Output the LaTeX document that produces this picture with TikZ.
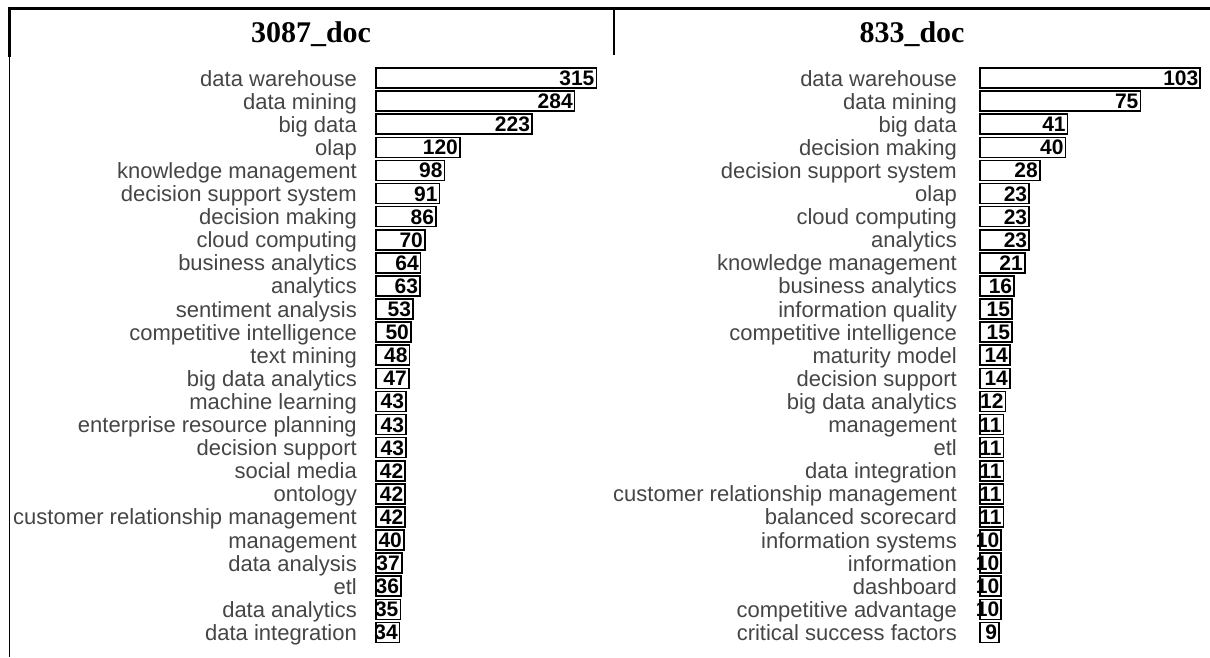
\documentclass[tikz,border=0pt]{standalone}
\usepackage{fontspec}
\setmainfont{Liberation Serif}
\newfontfamily\arialf{Liberation Sans}
\definecolor{labgray}{gray}{0.27}
\begin{document}
\begin{tikzpicture}[x=1pt,y=-1pt,
  lab/.style={anchor=base east,inner sep=0pt,text=labgray,font=\arialf\fontsize{22}{22}\selectfont},
  barbox/.style={draw=black,line width=1.6pt,fill=white,minimum height=20pt,inner sep=0pt,anchor=west},
  num/.style={anchor=base east,inner sep=0pt,text=black,font=\arialf\bfseries\fontsize{21}{21}\selectfont},
  ttl/.style={anchor=base,inner sep=0pt,font=\bfseries\fontsize{30}{30}\selectfont},
  rule/.style={line width=3pt,line cap=rect}]
\useasboundingbox (0,0) rectangle (1210,657);
% table borders
\draw[rule] (9.5,8.5) -- (1210,8.5);
\draw[rule] (9.5,8.5) -- (9.5,55);
\draw[line width=1.8pt] (9.5,55) -- (9.5,657);
\draw[line width=2.4pt] (614,8.5) -- (614,55);
% titles
\node[ttl] (tL) at (311,42) {3087\_doc};
\node[ttl] (tR) at (912,42) {833\_doc};
% left chart
\foreach \t/\v [count=\i from 0] in {data warehouse/315,data mining/284,big data/223,olap/120,knowledge management/98,decision support system/91,decision making/86,cloud computing/70,business analytics/64,analytics/63,sentiment analysis/53,competitive intelligence/50,text mining/48,big data analytics/47,machine learning/43,enterprise resource planning/43,decision support/43,social media/42,ontology/42,customer relationship management/42,management/40,data analysis/37,etl/36,data analytics/35,data integration/34}{
  \pgfmathsetmacro{\yy}{78+23.1*\i}
  \node[lab] (lL\i) at (357,\yy+8) {\t};
  \node[barbox,minimum width=0.70*\v pt] (bL\i) at (375,\yy) {};
  \node[num] (nL\i) at ([xshift=-2.5pt,yshift=-7.5pt]bL\i.east) {\v};
}
% right chart
\foreach \t/\v [count=\i from 0] in {data warehouse/103,data mining/75,big data/41,decision making/40,decision support system/28,olap/23,cloud computing/23,analytics/23,knowledge management/21,business analytics/16,information quality/15,competitive intelligence/15,maturity model/14,decision support/14,big data analytics/12,management/11,etl/11,data integration/11,customer relationship management/11,balanced scorecard/11,information systems/10,information/10,dashboard/10,competitive advantage/10,critical success factors/9}{
  \pgfmathsetmacro{\yy}{78+23.1*\i}
  \node[lab] (lR\i) at (957,\yy+8) {\t};
  \node[barbox,minimum width=2.14*\v pt] (bR\i) at (979,\yy) {};
  \node[num] (nR\i) at ([xshift=-2.5pt,yshift=-7.5pt]bR\i.east) {\v};
}
\end{tikzpicture}
\end{document}
